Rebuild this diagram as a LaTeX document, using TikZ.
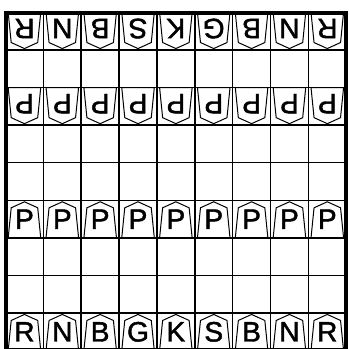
\documentclass[tikz,border=0pt]{standalone}
\usepackage{fontspec}
\setmainfont{Liberation Sans}
\newfontfamily\komafont{Liberation Sans}[FakeBold=1.6]

\begin{document}
\begin{tikzpicture}[x=37.8pt,y=37.5pt,
    piece/.style={anchor=base, inner sep=0pt, font=\komafont\fontsize{28}{28}\selectfont},
    koma/.style={line width=1pt, line join=miter}]
    \useasboundingbox (-0.146,0.04) rectangle (9.06,9.333);

    % Board
    \foreach \i in {1,...,8} {
        \draw[line width=1.5pt] (\i,0) -- (\i,9);
        \draw[line width=1.5pt] (0,\i) -- (9,\i);
    }
    \draw[line width=4pt] (0,0) rectangle (9,9);

    % Back rank, bottom player
    \foreach \p [count=\i from 0] in {R,N,B,G,K,S,B,N,R} {
        \draw[koma] (\i+0.07,0) -- (\i+0.15,0.8) -- (\i+0.5,0.96) -- (\i+0.85,0.8) -- (\i+0.93,0);
        \node[piece] (b\i) at (\i+0.5,0.24) {\p};
    }

    % Pawns, bottom player
    \foreach \i in {0,...,8} {
        \draw[koma] (\i+0.07,3) -- (\i+0.15,3.8) -- (\i+0.5,3.96) -- (\i+0.85,3.8) -- (\i+0.93,3) -- cycle;
        \node[piece] (bp\i) at (\i+0.5,3.24) {P};
    }

    % Pawns, top player (upside down)
    \foreach \i in {0,...,8} {
        \draw[koma] (\i+0.07,7) -- (\i+0.15,6.2) -- (\i+0.5,6.04) -- (\i+0.85,6.2) -- (\i+0.93,7) -- cycle;
        \node[piece, rotate=180] (tp\i) at (\i+0.5,6.83) {P};
    }

    % Back rank, top player (upside down)
    \foreach \p [count=\i from 0] in {R,N,B,S,K,G,B,N,R} {
        \draw[koma] (\i+0.07,9) -- (\i+0.15,8.2) -- (\i+0.5,8.04) -- (\i+0.85,8.2) -- (\i+0.93,9);
        \node[piece, rotate=180] (t\i) at (\i+0.5,8.83) {\p};
    }
\end{tikzpicture}
\end{document}
